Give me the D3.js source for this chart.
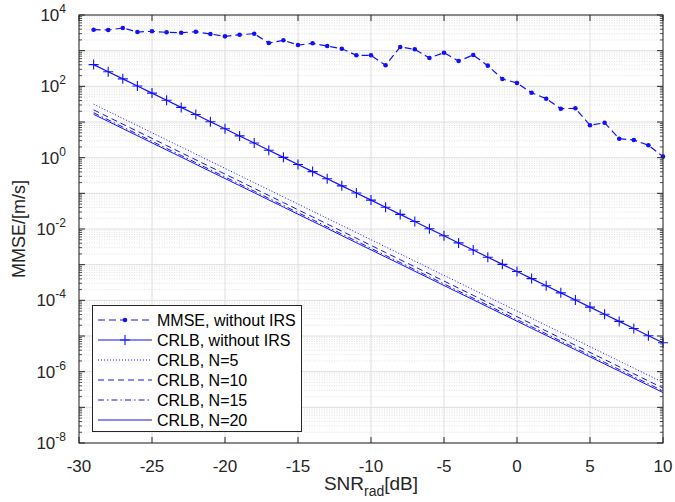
<!DOCTYPE html>
<html><head><meta charset="utf-8">
<script src="https://cdn.jsdelivr.net/npm/d3@7"></script>
<style>body{margin:0;background:#fff}svg{display:block}text{font-family:"Liberation Sans",Arial,sans-serif}</style>
</head><body><svg id="c" width="675" height="502"></svg>
<script>
const snr = d3.range(-29, 11);
const mmseNoIRS = [3870,3800,4330,3330,3490,3270,3190,3400,2930,2520,
  2800,2990,1640,1950,1440,1610,1350,1135,741,741,
  389,1268,1091,622,878,513,757,380,161,124,
  66,45,23.6,24.2,8.07,9.55,3.4,3.13,2.22,1.07];
const crlbNoIRS = [407,257,162,102,64.6,40.7,25.7,16.2,10.2,6.46,
  4.07,2.57,1.62,1.02,0.646,0.407,0.257,0.162,0.102,0.0646,
  0.0407,0.0257,0.0162,0.0102,6.46e-3,4.07e-3,2.57e-3,1.62e-3,1.02e-3,6.46e-4,
  4.07e-4,2.57e-4,1.62e-4,1.02e-4,6.46e-5,4.07e-5,2.57e-5,1.62e-5,1.02e-5,6.46e-6];
const crlbN5 = [31.6,19.9,12.6,7.94,5.01,3.16,1.99,1.26,0.794,0.501,
  0.316,0.199,0.126,0.0794,0.0501,0.0316,0.0199,0.0126,7.94e-3,5.01e-3,
  3.16e-3,1.99e-3,1.26e-3,7.94e-4,5.01e-4,3.16e-4,1.99e-4,1.26e-4,7.94e-5,5.01e-5,
  3.16e-5,1.99e-5,1.26e-5,7.94e-6,5.01e-6,3.16e-6,1.99e-6,1.26e-6,7.94e-7,5.01e-7];
const crlbN10 = [21.9,13.8,8.71,5.50,3.47,2.19,1.38,0.871,0.550,0.347,
  0.219,0.138,0.0871,0.0550,0.0347,0.0219,0.0138,8.71e-3,5.50e-3,3.47e-3,
  2.19e-3,1.38e-3,8.71e-4,5.50e-4,3.47e-4,2.19e-4,1.38e-4,8.71e-5,5.50e-5,3.47e-5,
  2.19e-5,1.38e-5,8.71e-6,5.50e-6,3.47e-6,2.19e-6,1.38e-6,8.71e-7,5.50e-7,3.47e-7];
const crlbN15 = [18.2,11.5,7.24,4.57,2.88,1.82,1.15,0.724,0.457,0.288,
  0.182,0.115,0.0724,0.0457,0.0288,0.0182,0.0115,7.24e-3,4.57e-3,2.88e-3,
  1.82e-3,1.15e-3,7.24e-4,4.57e-4,2.88e-4,1.82e-4,1.15e-4,7.24e-5,4.57e-5,2.88e-5,
  1.82e-5,1.15e-5,7.24e-6,4.57e-6,2.88e-6,1.82e-6,1.15e-6,7.24e-7,4.57e-7,2.88e-7];
const crlbN20 = [16.4,10.4,6.53,4.12,2.60,1.64,1.04,0.653,0.412,0.260,
  0.164,0.104,0.0653,0.0412,0.0260,0.0164,0.0104,6.53e-3,4.12e-3,2.60e-3,
  1.64e-3,1.04e-3,6.53e-4,4.12e-4,2.60e-4,1.64e-4,1.04e-4,6.53e-5,4.12e-5,2.60e-5,
  1.64e-5,1.04e-5,6.53e-6,4.12e-6,2.60e-6,1.64e-6,1.04e-6,6.53e-7,4.12e-7,2.60e-7];
const xTicks = [-30,-25,-20,-15,-10,-5,0,5,10];
const yTickExps = [-8,-6,-4,-2,0,2,4];
const legendLabels = ["MMSE, without IRS","CRLB, without IRS","CRLB, N=5","CRLB, N=10","CRLB, N=15","CRLB, N=20"];

const L=79, R=663, T=15, B=443;
const svg = d3.select("#c");
const x = d3.scaleLinear().domain([-30,10]).range([L,R]);
const y = d3.scaleLog().domain([1e-8,1e4]).range([B,T]);
const blue = "#1010ff", axc = "#262626";

// minor grid
const minors = [];
for (let e=-8; e<4; e++) for (let m=2; m<=9; m++) minors.push(m*Math.pow(10,e));
svg.append("g").selectAll("line").data(minors).join("line")
  .attr("x1",L).attr("x2",R).attr("y1",d=>y(d)).attr("y2",d=>y(d))
  .attr("stroke","#dcdcdc").attr("stroke-width",0.8).attr("stroke-dasharray","1,1.5");
// major grid
const majors = d3.range(-8,5).map(e=>Math.pow(10,e));
svg.append("g").selectAll("line").data(majors).join("line")
  .attr("x1",L).attr("x2",R).attr("y1",d=>y(d)).attr("y2",d=>y(d))
  .attr("stroke","#dedede").attr("stroke-width",1);
svg.append("g").selectAll("line").data(xTicks).join("line")
  .attr("x1",d=>x(d)).attr("x2",d=>x(d)).attr("y1",T).attr("y2",B)
  .attr("stroke","#dedede").attr("stroke-width",1);

// series
const line = d3.line().x((d,i)=>x(snr[i])).y(d=>y(d));
const series = [
  {v:mmseNoIRS, dash:"7,4", w:1.2},
  {v:crlbNoIRS, dash:null, w:1.2},
  {v:crlbN5, dash:"1,2", w:1},
  {v:crlbN10, dash:"6,4", w:1},
  {v:crlbN15, dash:"6,3,1.5,3", w:1},
  {v:crlbN20, dash:null, w:1}
];
series.forEach(s=>{
  svg.append("path").attr("d",line(s.v)).attr("fill","none").attr("stroke",blue)
    .attr("stroke-width",s.w).attr("stroke-dasharray",s.dash);
});
svg.append("g").selectAll("circle").data(mmseNoIRS).join("circle")
  .attr("cx",(d,i)=>x(snr[i])).attr("cy",d=>y(d)).attr("r",2.3).attr("fill",blue);
const cross = "M-5,0H5M0,-5V5";
svg.append("g").selectAll("path").data(crlbNoIRS).join("path")
  .attr("transform",(d,i)=>`translate(${x(snr[i])},${y(d)})`).attr("d",cross)
  .attr("stroke",blue).attr("stroke-width",1.1).attr("fill","none");

// axes box & ticks
const ax = svg.append("g").attr("stroke",axc).attr("fill","none");
ax.append("rect").attr("x",L).attr("y",T).attr("width",R-L).attr("height",B-T).attr("stroke-width",1);
xTicks.forEach(t=>{
  ax.append("line").attr("x1",x(t)).attr("x2",x(t)).attr("y1",B).attr("y2",B-6);
  ax.append("line").attr("x1",x(t)).attr("x2",x(t)).attr("y1",T).attr("y2",T+6);
});
majors.forEach(v=>{
  ax.append("line").attr("x1",L).attr("x2",L+6).attr("y1",y(v)).attr("y2",y(v));
  ax.append("line").attr("x1",R).attr("x2",R-6).attr("y1",y(v)).attr("y2",y(v));
});
minors.forEach(v=>{
  ax.append("line").attr("x1",L).attr("x2",L+3).attr("y1",y(v)).attr("y2",y(v)).attr("stroke-width",0.8);
  ax.append("line").attr("x1",R).attr("x2",R-3).attr("y1",y(v)).attr("y2",y(v)).attr("stroke-width",0.8);
});

// tick labels
svg.append("g").selectAll("text").data(xTicks).join("text")
  .attr("x",d=>x(d)).attr("y",472).attr("text-anchor","middle")
  .attr("font-size",17).attr("fill",axc).text(d=>d);
const yl = svg.append("g").selectAll("text").data(yTickExps).join("text")
  .attr("x",66).attr("y",d=>y(Math.pow(10,d))+6).attr("text-anchor","end")
  .attr("font-size",17).attr("fill",axc);
yl.append("tspan").text("10");
yl.append("tspan").attr("font-size",12).attr("dy",-8).text(d=>d);

// axis labels
const xl = svg.append("text").attr("x",(L+R)/2).attr("y",490).attr("text-anchor","middle")
  .attr("font-size",19).attr("fill",axc);
xl.append("tspan").text("SNR");
xl.append("tspan").attr("font-size",14).attr("dy",6).text("rad");
xl.append("tspan").attr("dy",-6).text("[dB]");
svg.append("text").attr("transform",`translate(25,${(T+B)/2}) rotate(-90)`)
  .attr("text-anchor","middle").attr("font-size",18).attr("fill",axc).text("MMSE/[m/s]");

// legend
const lg = svg.append("g");
lg.append("rect").attr("x",92.5).attr("y",305.5).attr("width",209).attr("height",126)
  .attr("fill","#fff").attr("stroke",axc).attr("stroke-width",1);
legendLabels.forEach((lab,i)=>{
  const yy = 320 + i*20, s = series[i];
  lg.append("line").attr("x1",98).attr("x2",152).attr("y1",yy).attr("y2",yy)
    .attr("stroke",blue).attr("stroke-width",s.w).attr("stroke-dasharray",s.dash);
  if(i===0) lg.append("circle").attr("cx",125).attr("cy",yy).attr("r",2.3).attr("fill",blue);
  if(i===1) lg.append("path").attr("transform",`translate(125,${yy})`).attr("d",cross)
    .attr("stroke",blue).attr("stroke-width",1.1);
  lg.append("text").attr("x",157).attr("y",yy+5.5).attr("font-size",16).attr("fill","#000").text(lab);
});
</script></body></html>
